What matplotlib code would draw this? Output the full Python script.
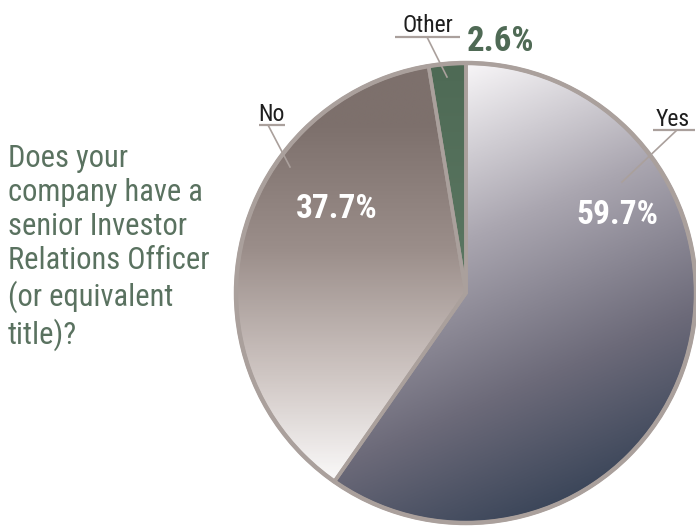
import numpy as np
import matplotlib
matplotlib.use("Agg")
import matplotlib.pyplot as plt
from matplotlib.colors import LinearSegmentedColormap

plt.rcParams['font.family'] = ['Roboto Condensed', 'DejaVu Sans']

# survey answers
labels = ['Yes', 'No', 'Other']
shares = [59.7, 37.7, 2.6]
question = "Does your\ncompany have a\nsenior Investor\nRelations Officer\n(or equivalent\ntitle)?"

W, H = 696, 527
green = '#5a7260'
rim = '#aaa09c'

fig = plt.figure(figsize=(W / 100, H / 100), dpi=100)
ax = fig.add_axes([0, 0, 1, 1])

cx, cy, r = 466, H - 293, 230
wedges, _ = ax.pie(shares, startangle=90, counterclock=False,
                   center=(cx, cy), radius=r, frame=True,
                   wedgeprops=dict(facecolor='none', edgecolor=rim, linewidth=2.6))
ax.set_xlim(0, W)
ax.set_ylim(0, H)
ax.set_aspect('equal')
ax.axis('off')

# gradient fills, clipped to each wedge
ext = [cx - r, cx + r, cy - r, cy + r]
gx, gy = np.meshgrid(np.linspace(ext[0], ext[1], 400), np.linspace(ext[3], ext[2], 400))

# Yes: light at upper left, dark slate at lower right
p0, p1 = np.array([470, H - 65]), np.array([650, H - 480])
d = p1 - p0
t_yes = ((gx - p0[0]) * d[0] + (gy - p0[1]) * d[1]) / (d @ d)
cm_yes = LinearSegmentedColormap.from_list('yes', [(0, '#f6f4f6'), (0.35, '#aaa6b0'),
                                                   (0.7, '#6c6a79'), (1, '#364256')])
# No: dark taupe on top fading to white at the bottom
t_no = (cy + r - 60 - gy) / (2 * r - 100)
cm_no = LinearSegmentedColormap.from_list('no', [(0, '#7d706c'), (0.35, '#9b8e8a'),
                                                 (0.7, '#cfc6c3'), (1, '#fbfafa')])
t_oth = (cy + r - gy) / (2 * r)
cm_oth = LinearSegmentedColormap.from_list('oth', ['#4e6a55', '#6a8570'])

for w, t, cm in zip(wedges, [t_yes, t_no, t_oth], [cm_yes, cm_no, cm_oth]):
    im = ax.imshow(np.clip(t, 0, 1), cmap=cm, vmin=0, vmax=1, extent=ext,
                   origin='upper', interpolation='bilinear', zorder=0)
    im.set_clip_path(w)

ax.add_patch(plt.Circle((cx, cy), r, fill=False, edgecolor=rim, linewidth=3.2, zorder=2))


def img(x, y):
    return x, H - y


# outside labels with underline and leader
callouts = [
    ('Yes', (673, 126), (653, 695, 130), (677, 130), (622, 182)),
    ('No', (271, 121), (259, 285, 125), (268, 125), (290, 167)),
    ('Other', (428, 32), (395, 460, 37), (427, 37), (447, 77)),
]
for txt, pos, ul, a, b in callouts:
    ax.text(*img(*pos), txt, ha='center', va='baseline', fontsize=17, color='#1e1e1e')
    ax.plot([ul[0], ul[1]], [H - ul[2]] * 2, color=rim, lw=1.6, solid_capstyle='butt', zorder=3)
    ax.plot([a[0], b[0]], [H - a[1], H - b[1]], color=rim, lw=1.2, zorder=3)

pct = [f'{v:.1f}%' for v in shares]
ax.text(*img(617, 224), pct[0], ha='center', va='baseline', fontsize=24,
        fontweight='bold', color='white', zorder=4)
ax.text(*img(337, 218), pct[1], ha='center', va='baseline', fontsize=24,
        fontweight='bold', color='white', zorder=4)
ax.text(*img(467, 51), pct[2], ha='left', va='baseline', fontsize=25,
        fontweight='bold', color='#4f6a55', zorder=4)

ax.text(*img(8, 144), question, ha='left', va='top', fontsize=22,
        color=green, linespacing=1.22)

fig.savefig('out.png', dpi=100)
